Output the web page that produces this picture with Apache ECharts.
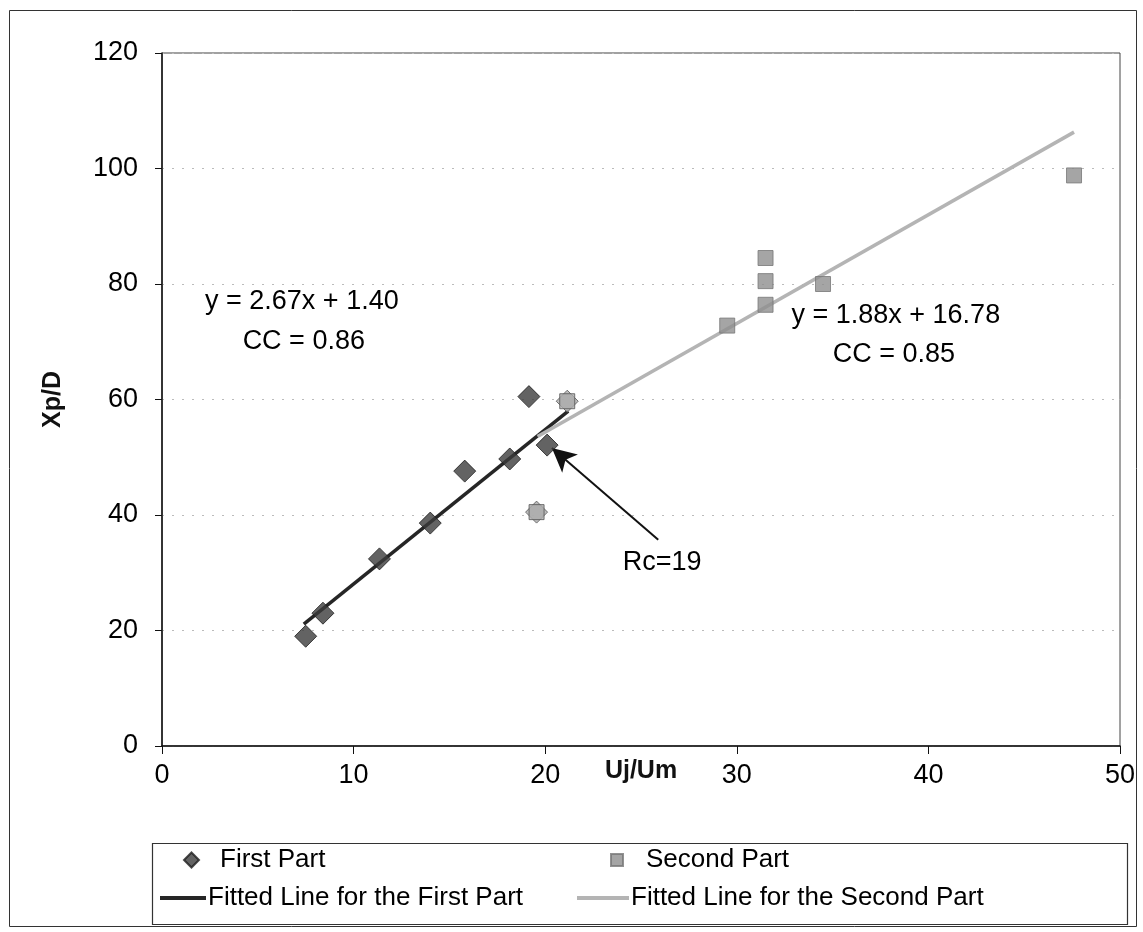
<!DOCTYPE html>
<html>
<head>
<meta charset="utf-8">
<script src="https://cdn.jsdelivr.net/npm/echarts@6/dist/echarts.min.js"></script>
<style>
html,body{margin:0;padding:0;background:#fff;}
#chart{width:1143px;height:932px;}
</style>
</head>
<body>
<div id="chart"></div>
<script>
// ---- data ----
var firstPart = [[7.5,19.0],[8.4,23.0],[11.35,32.4],[14.0,38.6],[15.8,47.6],[18.15,49.7],[19.15,60.5],[20.1,52.1]];
var sharedPoints = [[19.55,40.5],[21.15,59.7]];
var secondPart = [[29.5,72.8],[31.5,84.5],[31.5,80.5],[31.5,76.4],[34.5,80.0],[47.6,98.8]];
var fitFirst = [[7.4,21.1],[21.2,58.0]];
var fitSecond = [[19.6,53.6],[47.6,106.3]];
var xTicks = [0,10,20,30,40,50];
var yTicks = [0,20,40,60,80,100,120];
var notes = [
  {pos:[7.3,76.9], text:'y = 2.67x + 1.40'},
  {pos:[7.4,70.0], text:'CC = 0.86'},
  {pos:[38.3,74.5], text:'y = 1.88x + 16.78'},
  {pos:[38.2,67.7], text:'CC = 0.85'},
  {pos:[26.1,31.8], text:'Rc=19'}
];
var arrowFrom = [25.9,35.7];
var arrowTo = [20.35,51.6];

var FONT = '"Liberation Sans", Arial, sans-serif';
var chart = echarts.init(document.getElementById('chart'), null, {renderer:'canvas'});

function legendBox(left, top, name, icon, w, h, pad){
  return {left:left, top:top, orient:'horizontal', itemWidth:w, itemHeight:h, itemGap:0,
    symbolKeepAspect:true, selectedMode:false,
    textStyle:{fontFamily:FONT, fontSize:26, color:'#000', padding:[0,0,0,pad]},
    data:[{name:name, icon:icon}]};
}

var option = {
  backgroundColor:'#fff',
  animation:false,
  grid:{left:162, right:23, top:53, bottom:186, show:true, borderColor:'#444', borderWidth:1, backgroundColor:'transparent'},
  xAxis:{
    type:'value', min:0, max:50, interval:10,
    name:'Uj/Um', nameLocation:'middle', nameGap:13, nameMoveOverlap:false,
    nameTextStyle:{fontFamily:FONT, fontWeight:'bold', fontSize:25, color:'#111'},
    axisLine:{lineStyle:{color:'#111', width:1.5}},
    axisTick:{show:true, length:8, lineStyle:{color:'#111'}},
    axisLabel:{fontFamily:FONT, fontSize:27, color:'#000', margin:16,
      formatter:function(v){return xTicks.indexOf(v)>=0?String(v):'';}},
    splitLine:{show:false}
  },
  yAxis:{
    type:'value', min:0, max:120, interval:20,
    name:'Xp/D', nameLocation:'middle', nameGap:96, nameRotate:90, nameMoveOverlap:false,
    nameTextStyle:{fontFamily:FONT, fontWeight:'bold', fontSize:25, color:'#111'},
    axisLine:{show:true, lineStyle:{color:'#111', width:1.5}},
    axisTick:{show:true, length:7, lineStyle:{color:'#111'}},
    axisLabel:{fontFamily:FONT, fontSize:27, color:'#000', margin:24,
      formatter:function(v){return yTicks.indexOf(v)>=0?String(v):'';}},
    splitLine:{show:true, lineStyle:{color:'#bbb', type:[2,8], width:1}}
  },
  legend:[
    legendBox(178, 842, 'First Part', 'diamond', 15, 15, 16),
    legendBox(155, 880, 'Fitted Line for the First Part', 'rect', 46, 4, -3),
    legendBox(605, 842, 'Second Part', 'rect', 12, 12, 18),
    legendBox(572, 880, 'Fitted Line for the Second Part', 'rect', 52, 4, -3)
  ],
  graphic:[
    {type:'rect', shape:{x:9.5, y:10.5, width:1127, height:916}, style:{fill:'none', stroke:'#333', lineWidth:1}, z:-1},
    {type:'rect', shape:{x:152.5, y:843.5, width:975, height:81}, style:{fill:'none', stroke:'#333', lineWidth:1.2}, z:-1}
  ],
  series:[
    {name:'Fitted Line for the First Part', type:'line', data:fitFirst, symbol:'none',
     lineStyle:{color:'#262626', width:3.5}, itemStyle:{color:'#262626'}, z:3},
    {name:'Fitted Line for the Second Part', type:'line', data:fitSecond, symbol:'none',
     lineStyle:{color:'#b4b4b4', width:3.5}, itemStyle:{color:'#b4b4b4'}, z:3},
    {name:'First Part', type:'scatter', data:firstPart, symbol:'diamond', symbolSize:22,
     itemStyle:{color:'#3c3c3c', borderColor:'#1e1e1e', borderWidth:1}, z:5},
    {name:'Second Part', type:'scatter', data:secondPart, symbol:'rect', symbolSize:15,
     itemStyle:{color:'#8f8f8f', borderColor:'#777', borderWidth:1}, z:5},
    {name:'sharedA', type:'scatter', data:sharedPoints, symbol:'diamond', symbolSize:22,
     itemStyle:{color:'#ababab', borderColor:'#555', borderWidth:1}, z:5},
    {name:'sharedB', type:'scatter', data:sharedPoints, symbol:'rect', symbolSize:15,
     itemStyle:{color:'#ababab', borderColor:'#555', borderWidth:1}, z:6},
    {name:'notes', type:'scatter', symbolSize:0, silent:true, z:7,
     itemStyle:{opacity:1},
     data:notes.map(function(n){return {value:n.pos, label:{formatter:n.text}};}),
     label:{show:true, position:'inside', fontFamily:FONT, fontSize:27, color:'#000', opacity:1},
     markLine:{silent:true, symbol:['none','arrow'], symbolSize:[18,24],
       lineStyle:{color:'#111', width:2, type:'solid'}, label:{show:false},
       data:[[{coord:arrowFrom},{coord:arrowTo}]]}
    }
  ]
};
chart.setOption(option);
</script>
</body>
</html>
